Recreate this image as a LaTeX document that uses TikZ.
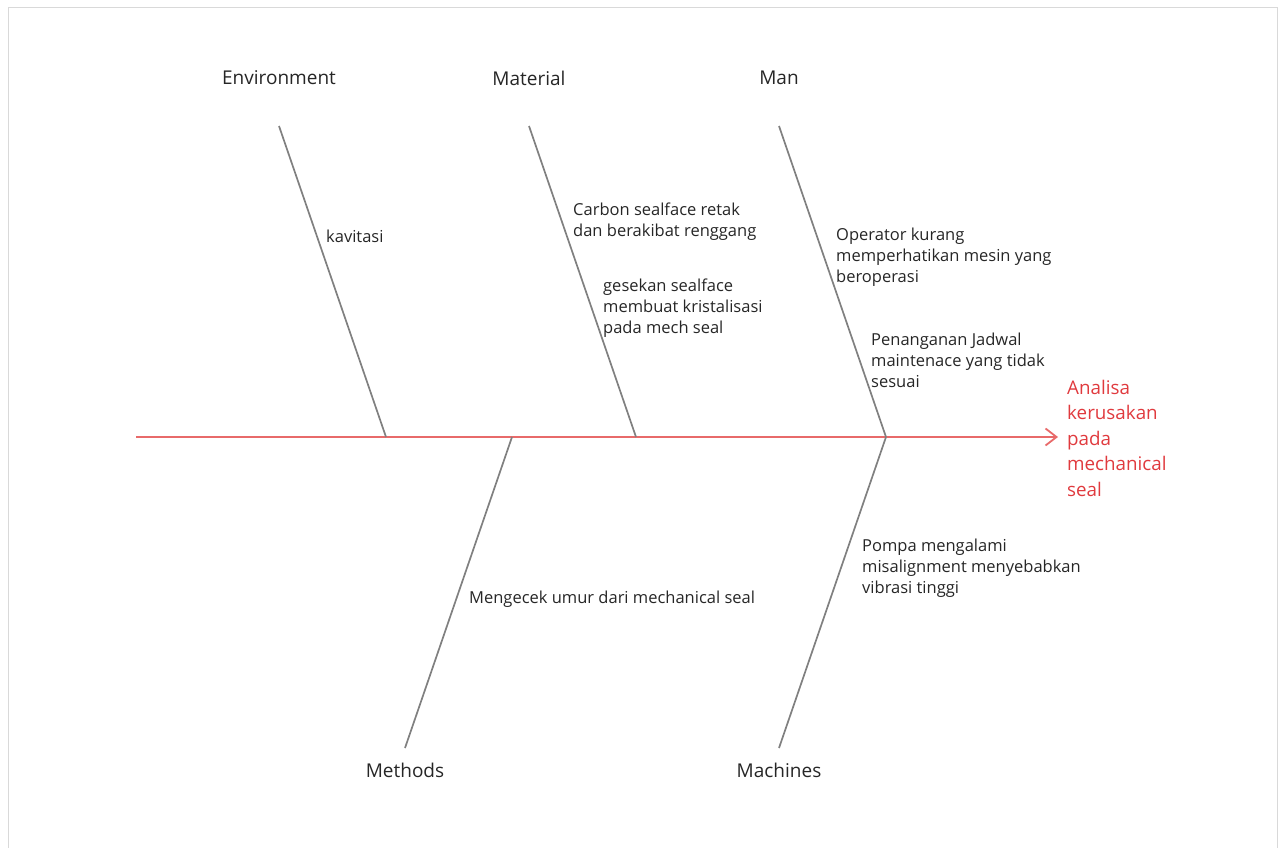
\documentclass[tikz,border=0pt]{standalone}
\usepackage{fontspec}
\setmainfont{Open Sans}
\usetikzlibrary{arrows.meta, positioning}
\definecolor{spinered}{HTML}{E86A6A}
\definecolor{headred}{HTML}{E03A3E}
\definecolor{bonegray}{HTML}{808080}
\definecolor{framegray}{HTML}{D9D9D9}

\begin{document}
\begin{tikzpicture}[x=1pt, y=-1pt,
  category/.style={inner sep=0pt, font=\fontsize{19}{22}\selectfont, text=black!85},
  cause/.style={inner sep=0pt, anchor=west, align=left, font=\fontsize{16.5}{21}\selectfont, text=black!85},
  bone/.style={bonegray, line width=1.7pt},
  spine/.style={spinered, line width=1.8pt, -{Straight Barb[length=11pt, width=17pt, line width=1.8pt]}}
]
  \useasboundingbox (0,0) rectangle (1286,848);
  \draw[framegray, line width=1pt] (8.5,7.5) rectangle (1277.5,870);

  % effect
  \coordinate (tail) at (136,437);
  \node[inner sep=0pt, anchor=west, align=left, text=headred,
    font=\fontsize{18.8}{25.5}\selectfont] (effect) at (1067,438)
    {Analisa\\kerusakan\\pada\\mechanical\\seal};
  \coordinate (tip) at (1058,437);
  \draw[spine] (tail) -- (tip);

  % upper bones
  \coordinate (env top) at (279,126);   \coordinate (env foot) at (386,437);
  \coordinate (mat top) at (529,126);   \coordinate (mat foot) at (636,437);
  \coordinate (man top) at (779,126);   \coordinate (man foot) at (886,437);
  % lower bones
  \coordinate (met foot) at (512,437);  \coordinate (met end) at (405,748);
  \coordinate (mac foot) at (886,437);  \coordinate (mac end) at (779,748);

  \node[category] (env) at (279,78) {Environment};
  \node[category] (mat) at (529,78) {Material};
  \node[category] (man) at (779,78) {Man};
  \node[category] (met) at (405,770) {Methods};
  \node[category] (mac) at (779,770) {Machines};

  \draw[bone] (env top) -- (env foot);
  \draw[bone] (mat top) -- (mat foot);
  \draw[bone] (man top) -- (man foot);
  \draw[bone] (met foot) -- (met end);
  \draw[bone] (mac foot) -- (mac end);

  % causes
  \node[cause] (kavitasi) at (326,236) {kavitasi};
  \node[cause] (carbon) at (573,221.5) {Carbon sealface retak\\dan berakibat renggang};
  \node[cause] (gesekan) at (603,308) {gesekan sealface\\membuat kristalisasi\\pada mech seal};
  \node[cause] (operator) at (836,257) {Operator kurang\\memperhatikan mesin yang\\beroperasi};
  \node[cause] (jadwal) at (871,360) {Penanganan Jadwal\\maintenace yang tidak\\sesuai};
  \node[cause] (umur) at (469,599) {Mengecek umur dari mechanical seal};
  \node[cause] (pompa) at (862,568) {Pompa mengalami\\misalignment menyebabkan\\vibrasi tinggi};
\end{tikzpicture}
\end{document}
